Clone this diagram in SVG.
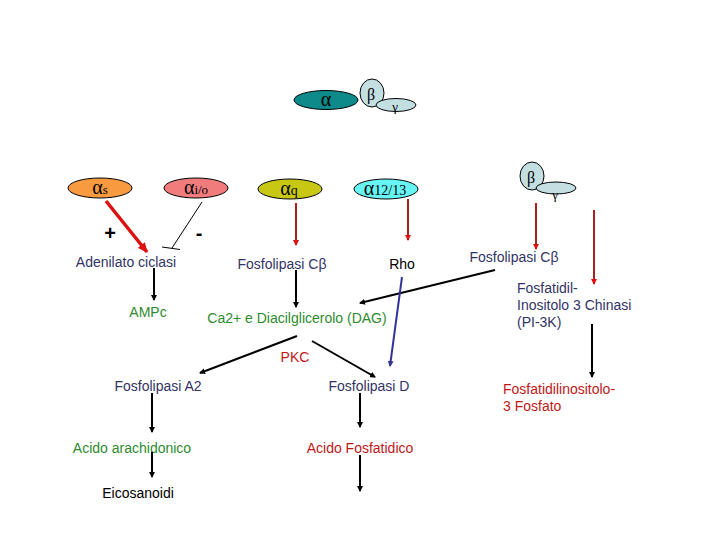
<svg xmlns="http://www.w3.org/2000/svg" width="720" height="540" viewBox="0 0 720 540">
<style>
.t{font-family:"Liberation Sans",Arial,sans-serif;font-size:14px;text-anchor:middle}
.l{text-anchor:start}
.navy{fill:#333366}
.blk{fill:#000}
.grn{fill:#2e8b2e}
.red{fill:#c01818}
.g{font-family:"Liberation Serif","Times New Roman",serif;fill:#000}
.el{stroke:#000;stroke-width:1}
.ln{fill:none;stroke-width:2}
.sg{font-family:"Liberation Sans",Arial,sans-serif;font-size:20px;font-weight:bold;text-anchor:middle;fill:#000}
</style>
<defs>
<marker id="ab" markerWidth="6" markerHeight="6" refX="5" refY="3" orient="auto" markerUnits="userSpaceOnUse"><path d="M0,0 L6,3 L0,6 Z" fill="#000"/></marker>
<marker id="ar" markerWidth="6" markerHeight="6" refX="5" refY="3" orient="auto" markerUnits="userSpaceOnUse"><path d="M0,0 L6,3 L0,6 Z" fill="#e01010"/></marker>
<marker id="ar2" markerWidth="10" markerHeight="9" refX="9" refY="4.5" orient="auto" markerUnits="userSpaceOnUse"><path d="M0,0 L10,4.5 L0,9 Z" fill="#e01010"/></marker>
<marker id="au" markerWidth="6" markerHeight="6" refX="5" refY="3" orient="auto" markerUnits="userSpaceOnUse"><path d="M0,0 L6,3 L0,6 Z" fill="#333399"/></marker>
</defs>
<rect width="720" height="540" fill="#fff"/>

<g id="gprotein">
<ellipse class="el" cx="326" cy="100" rx="32" ry="9.5" fill="#0e8a8a"/>
<text class="g" x="326" y="106" font-size="20" text-anchor="middle">α</text>
<ellipse class="el" cx="372" cy="93" rx="12" ry="14" fill="#c4dfe2"/>
<text class="g" x="371" y="100" font-size="16" text-anchor="middle">β</text>
<ellipse class="el" cx="396" cy="105" rx="20" ry="6.5" fill="#c4dfe2"/>
<text class="g" x="395" y="111" font-size="13" text-anchor="middle">γ</text>
</g>

<g id="alpha-s">
<ellipse class="el" cx="100" cy="188" rx="32" ry="10" fill="#f79a40"/>
<text class="g" x="100" y="194" font-size="20" text-anchor="middle">α<tspan font-size="13">s</tspan></text>
</g>
<g id="alpha-io">
<ellipse class="el" cx="196" cy="188" rx="32" ry="10" fill="#f07c7c"/>
<text class="g" x="196" y="194" font-size="20" text-anchor="middle">α<tspan font-size="13">i/o</tspan></text>
</g>
<g id="alpha-q">
<ellipse class="el" cx="290" cy="189" rx="32" ry="10" fill="#c8c814"/>
<text class="g" x="289" y="195" font-size="20" text-anchor="middle">α<tspan font-size="14">q</tspan></text>
</g>
<g id="alpha-1213">
<ellipse class="el" cx="386" cy="189" rx="32" ry="10" fill="#66f4f4"/>
<text class="g" x="385" y="195" font-size="20" text-anchor="middle">α<tspan font-size="14">12/13</tspan></text>
</g>
<g id="betagamma">
<ellipse class="el" cx="532" cy="176" rx="12" ry="14" fill="#c4dfe2"/>
<text class="g" x="531" y="183" font-size="16" text-anchor="middle">β</text>
<ellipse class="el" cx="556" cy="188" rx="20" ry="6" fill="#c4dfe2"/>
<text class="g" x="555" y="199" font-size="13" text-anchor="middle">γ</text>
</g>

<g id="signs">
<text class="sg" x="110" y="240">+</text>
<text class="sg" x="199" y="240">-</text>
</g>

<g id="labels">
<text class="t navy" x="126" y="267">Adenilato ciclasi</text>
<text class="t grn" x="148" y="317">AMPc</text>
<text class="t navy" x="282" y="269">Fosfolipasi Cβ</text>
<text class="t blk" x="402" y="269">Rho</text>
<text class="t navy" x="514" y="262">Fosfolipasi Cβ</text>
<text class="t navy l" x="517" y="293">Fosfatidil-</text>
<text class="t navy l" x="517" y="310">Inositolo 3 Chinasi</text>
<text class="t navy l" x="517" y="327">(PI-3K)</text>
<text class="t grn" x="297" y="323">Ca2+ e Diacilglicerolo (DAG)</text>
<text class="t red" x="295" y="362">PKC</text>
<text class="t navy" x="158" y="391">Fosfolipasi A2</text>
<text class="t navy" x="369" y="391">Fosfolipasi D</text>
<text class="t grn" x="132" y="453">Acido arachidonico</text>
<text class="t red" x="360" y="453">Acido Fosfatidico</text>
<text class="t blk" x="138" y="498">Eicosanoidi</text>
<text class="t red l" x="503" y="394">Fosfatidilinositolo-</text>
<text class="t red l" x="503" y="411">3 Fosfato</text>
</g>

<g id="connectors">
<line x1="106" y1="201" x2="147" y2="252" stroke="#dd1111" stroke-width="3.5" marker-end="url(#ar2)"/>
<line x1="202" y1="202" x2="172" y2="248" stroke="#000" stroke-width="1"/>
<line x1="162" y1="247" x2="180" y2="249.5" stroke="#000" stroke-width="1"/>
<line class="ln" x1="296" y1="203" x2="296" y2="245" stroke="#a82020" marker-end="url(#ar)"/>
<line class="ln" x1="408" y1="199" x2="408" y2="240" stroke="#a82020" marker-end="url(#ar)"/>
<line class="ln" x1="536" y1="203" x2="536" y2="249" stroke="#a82020" marker-end="url(#ar)"/>
<line class="ln" x1="594" y1="210" x2="594" y2="284" stroke="#a82020" marker-end="url(#ar)"/>
<line class="ln" x1="154" y1="268" x2="154" y2="300" stroke="#000" marker-end="url(#ab)"/>
<line class="ln" x1="296" y1="270" x2="296" y2="307" stroke="#000" marker-end="url(#ab)"/>
<line class="ln" x1="495" y1="270" x2="360" y2="303" stroke="#000" marker-end="url(#ab)"/>
<line class="ln" x1="402" y1="277" x2="390" y2="366" stroke="#333399" marker-end="url(#au)"/>
<line class="ln" x1="297" y1="336" x2="200" y2="373" stroke="#000" marker-end="url(#ab)"/>
<line class="ln" x1="312" y1="341" x2="375" y2="377" stroke="#000" marker-end="url(#ab)"/>
<line class="ln" x1="152" y1="393" x2="152" y2="432" stroke="#000" marker-end="url(#ab)"/>
<line class="ln" x1="152" y1="452" x2="152" y2="477" stroke="#000" marker-end="url(#ab)"/>
<line class="ln" x1="360" y1="393" x2="360" y2="427" stroke="#000" marker-end="url(#ab)"/>
<line class="ln" x1="360" y1="455" x2="360" y2="491" stroke="#000" marker-end="url(#ab)"/>
<line class="ln" x1="592" y1="324" x2="592" y2="377" stroke="#000" marker-end="url(#ab)"/>
</g>
</svg>
